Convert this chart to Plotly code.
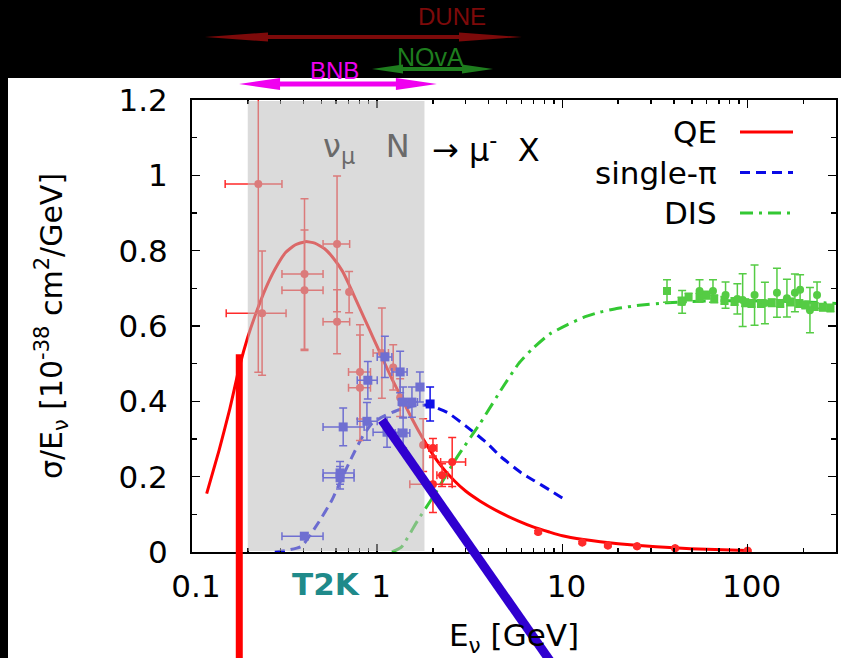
import numpy as np
import plotly.graph_objects as go

# ---------------- data ----------------
# model curves (E in GeV, sigma/E in 1e-38 cm^2/GeV)
qe_E = [0.12, 0.14, 0.16, 0.18, 0.2, 0.22, 0.25, 0.28, 0.32, 0.36, 0.41, 0.46, 0.52, 0.58, 0.65,
        0.72, 0.8, 0.9, 1.0, 1.1, 1.2, 1.35, 1.5, 1.7, 1.9, 2.2, 2.6, 3.0, 3.6, 4.6, 5.8,
        7.0, 8.5, 10, 13, 16, 20, 25, 32, 40, 60, 100]
qe_v = [0.155, 0.27, 0.38, 0.49, 0.57, 0.63, 0.70, 0.75, 0.795, 0.815, 0.824, 0.82, 0.805, 0.78, 0.745,
        0.70, 0.65, 0.595, 0.545, 0.50, 0.46, 0.41, 0.365, 0.315, 0.275, 0.23, 0.19, 0.162, 0.135, 0.105, 0.082,
        0.066, 0.053, 0.043, 0.033, 0.027, 0.022, 0.018, 0.014, 0.011, 0.007, 0.004]

spi_E = [0.28, 0.33, 0.39, 0.48, 0.57, 0.65, 0.73, 0.83, 0.94, 1.1, 1.3, 1.6, 1.9,
         2.4, 3.0, 3.9, 4.6, 6.0, 7.0, 8.5, 10]
spi_v = [0.0, 0.005, 0.015, 0.077, 0.138, 0.20, 0.252, 0.305, 0.342, 0.362, 0.377, 0.388, 0.39,
         0.37, 0.335, 0.29, 0.255, 0.21, 0.19, 0.165, 0.143]

dis_E = [1.2, 1.35, 1.66, 2.0, 2.7, 3.6, 4.8, 5.8, 6.9, 8.5, 10.6, 13, 16, 20, 26, 37,
         50, 70, 100, 150, 200, 300]
dis_v = [0.0, 0.013, 0.085, 0.146, 0.252, 0.342, 0.44, 0.50, 0.54, 0.578, 0.603, 0.623, 0.637,
         0.647, 0.655, 0.662, 0.665, 0.667, 0.667, 0.666, 0.664, 0.66]

# QE data points
qed_E = [0.228, 0.239, 0.405, 0.405, 0.607, 0.607, 0.705, 0.807, 0.807, 1.06, 1.22, 1.33, 1.77,
         2.0, 2.0, 2.24, 2.54, 7.4, 12.8, 17.6, 25.3, 40.6, 100]
qed_v = [0.977, 0.634, 0.738, 0.695, 0.818, 0.611, 0.69, 0.478, 0.436, 0.528, 0.49, 0.41, 0.284,
         0.276, 0.18, 0.204, 0.239, 0.053, 0.025, 0.017, 0.015, 0.010, 0.003]
qed_err = [0.5, 0.165, 0.2, 0.16, 0.18, 0.085, 0.055, 0.125, 0.14, 0.12, 0.06, 0.05, 0.07,
           0.025, 0.075, 0.03, 0.065, 0.004, 0.003, 0.003, 0.003, 0.002, 0.002]
qed_lo = [0.151, 0.153, 0.306, 0.306, 0.51, 0.51, 0.705, 0.70, 0.70, 0.95, 1.22, 1.33, 1.77,
          1.9, 1.5, 2.1, 2.2, 7.4, 12.8, 17.6, 25.3, 40.6, 100]
qed_hi = [0.306, 0.322, 0.51, 0.51, 0.71, 0.71, 0.705, 0.92, 0.92, 1.15, 1.22, 1.33, 1.77,
          2.1, 2.54, 2.4, 3.0, 7.4, 12.8, 17.6, 25.3, 40.6, 100]

# single-pi data points
spd_E = [0.404, 0.63, 0.63, 0.655, 0.88, 0.89, 1.10, 1.13, 1.33, 1.38, 1.38, 1.54, 1.70, 1.93]
spd_v = [0.042, 0.21, 0.197, 0.332, 0.347, 0.456, 0.518, 0.318, 0.478, 0.398, 0.316, 0.398, 0.438, 0.393]
spd_err = [0.008, 0.03, 0.03, 0.05, 0.05, 0.05, 0.055, 0.04, 0.055, 0.04, 0.04, 0.04, 0.04, 0.045]
spd_lo = [0.306, 0.51, 0.51, 0.51, 0.78, 0.78, 1.0, 0.95, 1.2, 1.3, 1.25, 1.45, 1.70, 1.93]
spd_hi = [0.51, 0.75, 0.75, 0.85, 1.0, 1.0, 1.2, 1.3, 1.45, 1.55, 1.5, 1.65, 1.70, 1.93]

# DIS data points
disc_E = [44.3, 55, 65, 76, 88, 94, 109, 124, 144, 163, 180, 192, 217, 237]
disc_v = [0.664, 0.693, 0.693, 0.682, 0.672, 0.669, 0.682, 0.661, 0.688, 0.674, 0.688, 0.696, 0.642, 0.682]
disc_err = [0.03, 0.03, 0.03, 0.035, 0.04, 0.07, 0.08, 0.055, 0.065, 0.05, 0.05, 0.04, 0.06, 0.035]
diss_E = [36.7, 44, 48, 55, 60, 66, 75, 85, 97, 105, 118, 135, 150, 170, 190, 205, 230, 255, 280]
diss_v = [0.693, 0.666, 0.677, 0.677, 0.682, 0.672, 0.668, 0.665, 0.662, 0.66, 0.66, 0.662, 0.66,
          0.664, 0.66, 0.656, 0.652, 0.65, 0.648]
diss_err = [0.03, 0.01, 0.01, 0.01, 0.01, 0.01, 0.01, 0.01, 0.01, 0.01, 0.01, 0.01, 0.01,
            0.01, 0.01, 0.01, 0.01, 0.01, 0.01]

# experiment energy ranges (GeV)
exp_names = ["DUNE", "NOvA", "BNB"]
exp_lo = [0.1175, 0.937, 0.1795]
exp_hi = [6.05, 4.22, 2.10]
exp_label_E = [2.54, 1.95, 0.59]

t2k_band = [0.2, 1.8]
legend_names = ["QE", "single-π", "DIS"]

# ---------------- geometry ----------------
W, H = 841, 658
ML, MR, MT, MB = 192, 5, 100, 106
PW, PH = W - ML - MR, H - MT - MB
XMIN, XMAX = 0.1, 300
YMAX = 1.2
LX0, LX1 = np.log10(XMIN), np.log10(XMAX)


def pxE(E):  # energy -> paper x
    return (np.log10(E) - LX0) / (LX1 - LX0)


def pyv(v):  # value -> paper y
    return v / YMAX


def pxp(p):  # pixel -> paper x
    return (p - ML) / PW


def pyp(p):  # pixel -> paper y
    return (MT + PH - p) / PH


FONT = "DejaVu Sans"
RED, BLUE, GREEN = "#ff0000", "#0a0ae6", "#33c833"

fig = go.Figure()

# curves
fig.add_trace(go.Scatter(x=qe_E, y=qe_v, mode="lines",
                         line=dict(color=RED, width=3, shape="spline", smoothing=0.5)))
fig.add_trace(go.Scatter(x=spi_E, y=spi_v, mode="lines",
                         line=dict(color=BLUE, width=3, dash="10px,6px", shape="spline", smoothing=0.5)))
fig.add_trace(go.Scatter(x=dis_E, y=dis_v, mode="lines",
                         line=dict(color=GREEN, width=3, dash="13px,6px,3px,6px", shape="spline", smoothing=0.5)))


def data_trace(E, v, err, lo, hi, color, symbol, size):
    E = np.array(E, float)
    tr = dict(x=E, y=v, mode="markers",
              marker=dict(symbol=symbol, size=size, color=color),
              error_y=dict(type="data", array=err, color=color, thickness=1.5, width=4))
    if lo is not None:
        tr["error_x"] = dict(type="data", array=np.array(hi) - E, arrayminus=E - np.array(lo),
                             color=color, thickness=1.5, width=4)
    return go.Scatter(**tr)


fig.add_trace(data_trace(qed_E, qed_v, qed_err, qed_lo, qed_hi, "#ff2a2a", "circle", 8))
fig.add_trace(data_trace(spd_E, spd_v, spd_err, spd_lo, spd_hi, "#1010e8", "square", 9))
fig.add_trace(data_trace(diss_E, diss_v, diss_err, None, None, "#55cc44", "square", 8))
fig.add_trace(data_trace(disc_E, disc_v, disc_err, None, None, "#55cc44", "circle", 8))

shapes = []
# T2K grey band (semi-transparent, on top of data)
shapes.append(dict(type="rect", xref="paper", yref="paper", layer="above",
                   x0=pxE(t2k_band[0]), x1=pxE(t2k_band[1]), y0=0.002, y1=0.998,
                   fillcolor="rgba(190,190,190,0.55)", line=dict(width=0)))
# black frame bands
shapes.append(dict(type="rect", xref="paper", yref="paper", layer="above",
                   x0=pxp(-2), x1=pxp(W + 2), y0=pyp(78), y1=pyp(-2),
                   fillcolor="black", line=dict(width=0)))
shapes.append(dict(type="rect", xref="paper", yref="paper", layer="above",
                   x0=pxp(-2), x1=pxp(8), y0=pyp(H + 2), y1=pyp(-2),
                   fillcolor="black", line=dict(width=0)))
# thick pointer lines
shapes.append(dict(type="line", xref="paper", yref="paper", layer="above",
                   x0=pxE(0.18), x1=pxE(0.18), y0=pyv(0.525), y1=-0.3,
                   line=dict(color="#ff0000", width=7)))
shapes.append(dict(type="line", xref="paper", yref="paper", layer="above",
                   x0=pxE(1.06), x1=pxE(10.0), y0=pyv(0.35), y1=-0.28,
                   line=dict(color="#3000d0", width=9)))


def arrow_path(E0, E1, ycpx, h, L, Hh):
    x0, x1 = pxE(E0), pxE(E1)
    Lp = L / PW
    yc = pyp(ycpx)
    hp, Hp = h / PH, Hh / PH
    pts = [(x0, yc), (x0 + Lp, yc + Hp), (x0 + Lp, yc + hp), (x1 - Lp, yc + hp), (x1 - Lp, yc + Hp),
           (x1, yc), (x1 - Lp, yc - Hp), (x1 - Lp, yc - hp), (x0 + Lp, yc - hp), (x0 + Lp, yc - Hp)]
    return "M " + " L ".join(f"{a:.5f},{b:.5f}" for a, b in pts) + " Z"


exp_colors = ["#7d0a0a", "#1e7d1e", "#f000f0"]
exp_ypx = [37, 69, 84]
exp_geom = [(2, 63, 4.5), (2, 31, 4.5), (2.5, 41, 6)]
exp_label_ypx = [16.5, 57, 70.5]
exp_font = [24, 25, 24]
annotations = []
for i, name in enumerate(exp_names):
    h, L, Hh = exp_geom[i]
    shapes.append(dict(type="path", xref="paper", yref="paper", layer="above",
                       path=arrow_path(exp_lo[i], exp_hi[i], exp_ypx[i], h, L, Hh),
                       fillcolor=exp_colors[i], line=dict(width=0)))
    annotations.append(dict(xref="paper", yref="paper", x=pxE(exp_label_E[i]), y=pyp(exp_label_ypx[i]),
                            text=name, showarrow=False, xanchor="center", yanchor="middle",
                            font=dict(family="Liberation Sans", size=exp_font[i], color=exp_colors[i])))

# legend (text left, sample right)
leg_y = [132, 172.5, 213]
leg_style = [dict(color=RED, width=3, dash="solid"),
             dict(color=BLUE, width=3, dash="10px,6px"),
             dict(color=GREEN, width=3, dash="13px,6px,3px,6px")]
for i, name in enumerate(legend_names):
    annotations.append(dict(xref="paper", yref="paper", x=pxp(719), y=pyp(leg_y[i]),
                            text=name, showarrow=False, xanchor="right", yanchor="middle",
                            font=dict(family=FONT, size=31, color="black")))
    shapes.append(dict(type="line", xref="paper", yref="paper", layer="above",
                       x0=pxp(740), x1=pxp(793), y0=pyp(leg_y[i]), y1=pyp(leg_y[i]),
                       line=leg_style[i]))

# reaction label
annotations.append(dict(xref="paper", yref="paper", x=pxp(321), y=pyp(148),
                        text="ν<sub>μ</sub>\u00a0\u00a0\u00a0N", showarrow=False,
                        xanchor="left", yanchor="middle",
                        font=dict(family=FONT, size=32, color="#6a6a6a")))
annotations.append(dict(xref="paper", yref="paper", x=pxp(430), y=pyp(148),
                        text="→\u00a0μ<sup>-</sup>\u00a0\u00a0X", showarrow=False,
                        xanchor="left", yanchor="middle",
                        font=dict(family=FONT, size=32, color="black")))
# T2K label
annotations.append(dict(xref="paper", yref="paper", x=pxp(326), y=pyp(583.5),
                        text="<b>T2K</b>", showarrow=False, xanchor="center", yanchor="middle",
                        font=dict(family=FONT, size=31, color="#1f8a8a")))

x_major = [0.1, 1, 10, 100]
x_minor = [m * d for d in (0.1, 1, 10) for m in range(2, 10)] + [200, 300]
y_major = [0, 0.2, 0.4, 0.6, 0.8, 1.0, 1.2]
y_minor = [0.1, 0.3, 0.5, 0.7, 0.9, 1.1]

axis_common = dict(showline=True, linecolor="black", linewidth=2, mirror="ticks",
                   ticks="inside", tickcolor="black", tickwidth=1.5, ticklen=8,
                   showgrid=False, zeroline=False, automargin=False,
                   tickfont=dict(family=FONT, size=31, color="black"))

fig.update_layout(
    width=W, height=H, autosize=False,
    margin=dict(l=ML, r=MR, t=MT, b=MB, pad=0, autoexpand=False),
    paper_bgcolor="white", plot_bgcolor="white",
    showlegend=False,
    xaxis=dict(type="log", range=[LX0, LX1], tickvals=x_major,
               ticktext=["0.1", "1", "10", "100"],
               minor=dict(tickvals=x_minor, ticks="inside", ticklen=4, tickwidth=1.5, tickcolor="black"),
               ticklabelstandoff=6, ticklabelshift=4,
               title=dict(text="E<sub>ν</sub> [GeV]", font=dict(family=FONT, size=31, color="black"),
                          standoff=22),
               **axis_common),
    yaxis=dict(range=[0, YMAX], tickvals=y_major,
               ticktext=["0", "0.2", "0.4", "0.6", "0.8", "1", "1.2"],
               minor=dict(tickvals=y_minor, ticks="inside", ticklen=5, tickwidth=1.5, tickcolor="black"),
               ticklabelstandoff=16,
               title=dict(text="σ/E<sub>ν</sub> [10<sup>-38</sup> cm<sup>2</sup>/GeV]",
                          font=dict(family=FONT, size=30, color="black"), standoff=47),
               **axis_common),
    shapes=shapes,
    annotations=annotations,
)

fig.write_html("out.html", config={"displayModeBar": False, "staticPlot": True},
               post_script="document.body.style.margin='0px';document.body.style.overflow='hidden';")
